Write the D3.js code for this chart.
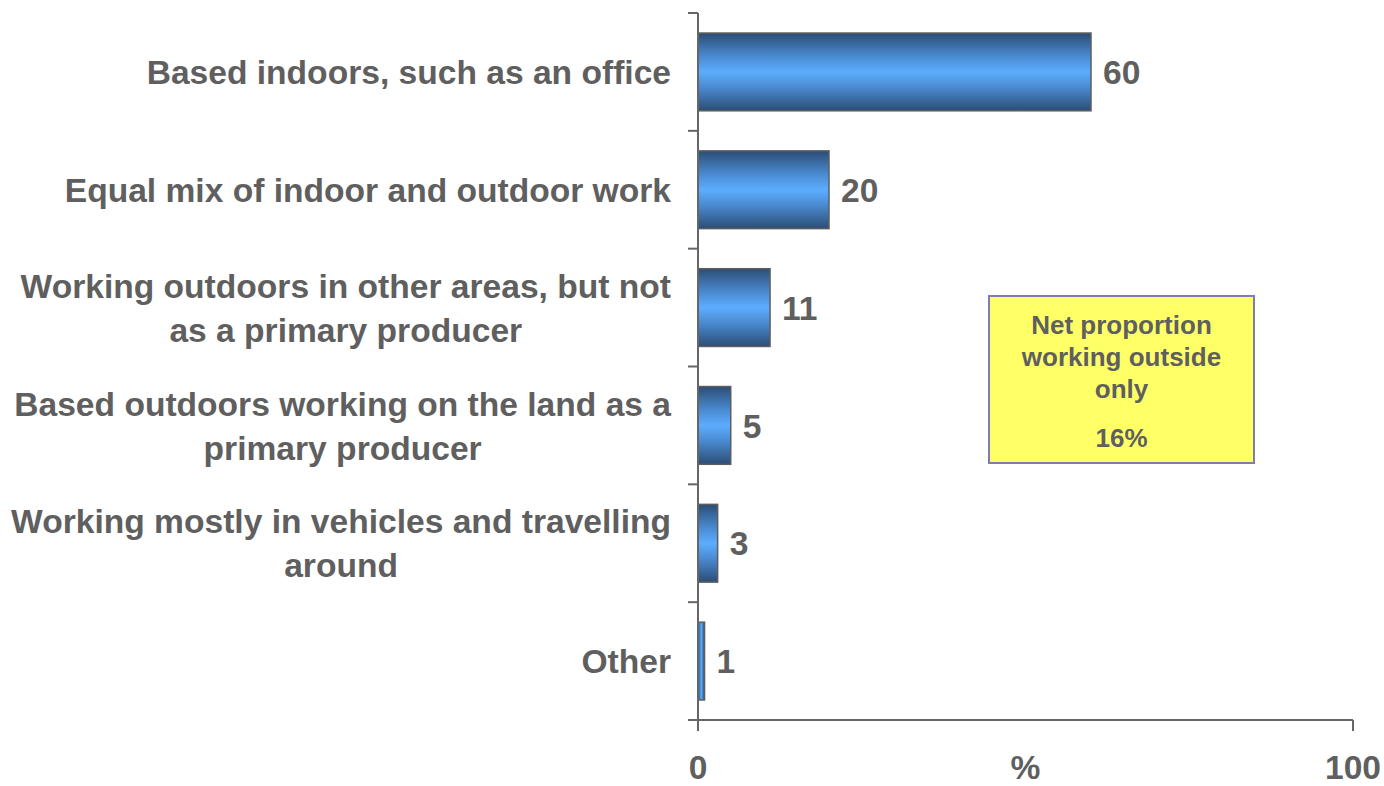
<!DOCTYPE html>
<html>
<head>
<meta charset="utf-8">
<script src="https://cdn.jsdelivr.net/npm/d3@7"></script>
<style>
  html, body { margin: 0; padding: 0; background: #fff; }
  svg { display: block; }
  text { font-family: "Liberation Sans", Arial, sans-serif; font-weight: bold; fill: #5f5f5f; }
</style>
</head>
<body>
<svg id="chart" width="1384" height="786"></svg>
<script>
// Where people mostly work (% of respondents)
const categories = [
  ["Based indoors, such as an office"],
  ["Equal mix of indoor and outdoor work"],
  ["Working outdoors in other areas, but not", "as a primary producer"],
  ["Based outdoors working on the land as a", "primary producer"],
  ["Working mostly in vehicles and travelling", "around"],
  ["Other"]
];
const values = [60, 20, 11, 5, 3, 1];
const xTickValues = [0, 100];
const xTickLabels = ["0", "100"];
const axisTitle = "%";
const noteLines = ["Net proportion", "working outside", "only"];
const noteValue = "16%";

const svg = d3.select("#chart");
const plotLeft = 698, plotRight = 1353, plotTop = 13, plotBottom = 720;
const fontSize = 33.6;

const x = d3.scaleLinear().domain([0, 100]).range([plotLeft, plotRight]);
const y = d3.scaleBand().domain(d3.range(categories.length)).range([plotTop, plotBottom])
  .paddingInner(0.34).paddingOuter(0.17);

// Bar shading: dark edges, bright middle
const defs = svg.append("defs");
const grad = defs.append("linearGradient").attr("id", "barShade")
  .attr("x1", 0).attr("y1", 0).attr("x2", 0).attr("y2", 1);
[[0, "#2b4d75"], [0.3, "#4a8ad0"], [0.5, "#5cadff"], [0.7, "#4a8ad0"], [1, "#2b4d75"]]
  .forEach(([o, c]) => grad.append("stop").attr("offset", o).attr("stop-color", c));
const gradThin = defs.append("linearGradient").attr("id", "barShadeThin")
  .attr("x1", 0).attr("y1", 0).attr("x2", 1).attr("y2", 0);
[[0, "#2b4d75"], [0.5, "#5cadff"], [1, "#2b4d75"]]
  .forEach(([o, c]) => gradThin.append("stop").attr("offset", o).attr("stop-color", c));

// Bars
svg.append("g").selectAll("rect").data(values).join("rect")
  .attr("x", x(0))
  .attr("y", (d, i) => y(i))
  .attr("width", d => x(d) - x(0))
  .attr("height", y.bandwidth())
  .attr("fill", d => (x(d) - x(0)) < 12 ? "url(#barShadeThin)" : "url(#barShade)")
  .attr("stroke", "#5e5e5e")
  .attr("stroke-width", 1.5);

// Value labels
svg.append("g").selectAll("text").data(values).join("text")
  .attr("x", d => x(d) + 12)
  .attr("y", (d, i) => y(i) + y.bandwidth() / 2)
  .attr("dy", "0.36em")
  .attr("font-size", fontSize)
  .text(d => d);

// Y axis with category ticks at band boundaries
const yAxisG = svg.append("g");
yAxisG.append("line").attr("x1", plotLeft).attr("x2", plotLeft).attr("y1", plotTop).attr("y2", plotBottom + 10)
  .attr("stroke", "#666").attr("stroke-width", 2);
const bounds = d3.range(categories.length + 1).map(i => plotTop + i * y.step());
yAxisG.selectAll("line.tick").data(bounds).join("line").attr("class", "tick")
  .attr("x1", plotLeft - 10).attr("x2", plotLeft).attr("y1", d => d).attr("y2", d => d)
  .attr("stroke", "#666").attr("stroke-width", 2);

// X axis
const xAxisG = svg.append("g");
xAxisG.append("line").attr("x1", plotLeft - 10).attr("x2", plotRight).attr("y1", plotBottom).attr("y2", plotBottom)
  .attr("stroke", "#666").attr("stroke-width", 2);
xAxisG.selectAll("line.tick").data(xTickValues).join("line").attr("class", "tick")
  .attr("x1", d => x(d)).attr("x2", d => x(d)).attr("y1", plotBottom).attr("y2", plotBottom + 11)
  .attr("stroke", "#666").attr("stroke-width", 2);
xAxisG.selectAll("text").data(xTickValues).join("text")
  .attr("x", d => x(d)).attr("y", 779)
  .attr("text-anchor", "middle").attr("font-size", fontSize)
  .text((d, i) => xTickLabels[i]);
svg.append("text").attr("x", x(50)).attr("y", 779)
  .attr("text-anchor", "middle").attr("font-size", fontSize).text(axisTitle);

// Category labels: lines centred on each other, block right-aligned to the axis
const labelRight = 671, lineGap = 44;
categories.forEach((lines, i) => {
  const g = svg.append("g");
  const cy = y(i) + y.bandwidth() / 2;
  const texts = lines.map((s, j) => g.append("text")
    .attr("font-size", fontSize)
    .attr("y", cy + (j - (lines.length - 1) / 2) * lineGap)
    .attr("dy", "0.36em")
    .attr("text-anchor", "middle")
    .text(s));
  const w = d3.max(texts, t => t.node().getComputedTextLength());
  texts.forEach(t => t.attr("x", labelRight - w / 2));
});

// Note box
const box = svg.append("g");
box.append("rect").attr("x", 989).attr("y", 296).attr("width", 265).attr("height", 167)
  .attr("fill", "#ffff66").attr("stroke", "#7d7db0").attr("stroke-width", 2);
const boxCx = 989 + 265 / 2;
noteLines.forEach((s, j) => box.append("text").attr("x", boxCx).attr("y", 325 + j * 32)
  .attr("dy", "0.36em").attr("text-anchor", "middle").attr("font-size", 26).text(s));
box.append("text").attr("x", boxCx).attr("y", 438).attr("dy", "0.36em")
  .attr("text-anchor", "middle").attr("font-size", 26).text(noteValue);
</script>
</body>
</html>
